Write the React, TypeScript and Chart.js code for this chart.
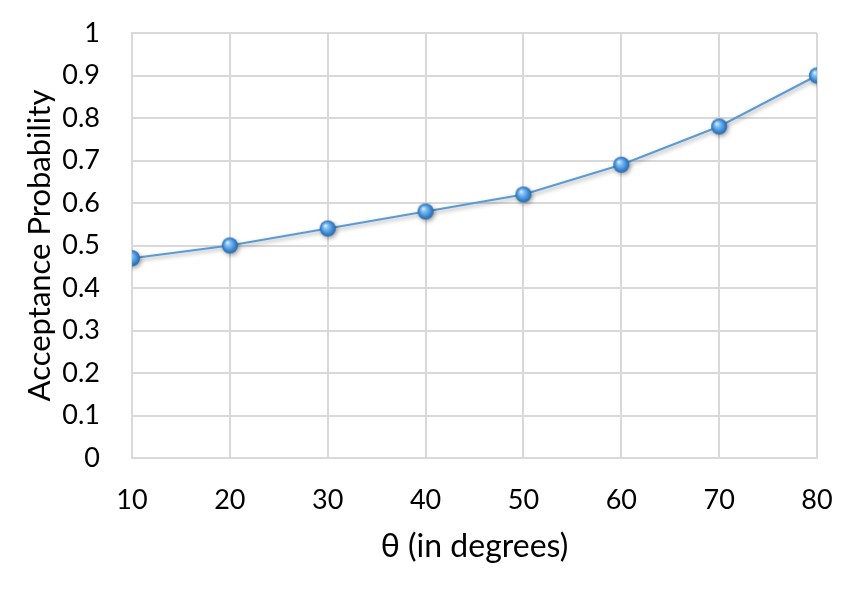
import React, { useEffect, useRef } from "react";
import { Chart, registerables } from "chart.js";

Chart.register(...registerables);

const thetaDegrees = [10, 20, 30, 40, 50, 60, 70, 80];
const acceptanceProbability = [0.47, 0.5, 0.54, 0.58, 0.62, 0.69, 0.78, 0.9];
const xTitle = "θ (in degrees)";
const yTitle = "Acceptance Probability";

const FONT = "Lato, 'Open Sans', 'DejaVu Sans', sans-serif";

function makeSphere(): HTMLCanvasElement {
  const size = 20;
  const c = document.createElement("canvas");
  c.width = size;
  c.height = size;
  const ctx = c.getContext("2d")!;
  const cx = size / 2;
  const cy = size / 2;
  const r = 8;
  const g = ctx.createRadialGradient(cx - 2.5, cy - 3, 0.5, cx, cy, r);
  g.addColorStop(0, "#d6ecfd");
  g.addColorStop(0.25, "#84c3f3");
  g.addColorStop(0.65, "#4592dc");
  g.addColorStop(1, "#2466a8");
  ctx.beginPath();
  ctx.arc(cx, cy, r, 0, Math.PI * 2);
  ctx.fillStyle = g;
  ctx.fill();
  return c;
}

const shadowPlugin = {
  id: "lineShadow",
  beforeDatasetDraw(chart: any) {
    const ctx = chart.ctx;
    ctx.save();
    ctx.shadowColor = "rgba(0,0,0,0.35)";
    ctx.shadowBlur = 4;
    ctx.shadowOffsetX = 1.5;
    ctx.shadowOffsetY = 2;
  },
  afterDatasetDraw(chart: any) {
    chart.ctx.restore();
  },
};

export default function App() {
  const ref = useRef<HTMLCanvasElement>(null);

  useEffect(() => {
    const sphere = makeSphere();
    const chart = new Chart(ref.current!, {
      type: "line",
      data: {
        datasets: [
          {
            data: thetaDegrees.map((x, i) => ({ x, y: acceptanceProbability[i] })),
            borderColor: "#5b9bd5",
            borderWidth: 2,
            pointStyle: sphere as any,
            pointRadius: 8,
            tension: 0,
          },
        ],
      },
      plugins: [shadowPlugin],
      options: {
        responsive: false,
        animation: false,
        layout: { padding: { top: 33, right: 30, left: 0, bottom: 0 } },
        plugins: { legend: { display: false }, tooltip: { enabled: false } },
        scales: {
          x: {
            type: "linear",
            min: 10,
            max: 80,
            afterFit: (s: any) => {
              s.height = 146;
              s.paddingLeft = 0;
              s.paddingRight = 0;
            },
            ticks: {
              stepSize: 10,
              padding: 26,
              color: "#000",
              font: { family: FONT, size: 27 },
            },
            grid: { color: "#d9d9d9", lineWidth: 2, drawTicks: false },
            border: { color: "#d9d9d9", width: 2 },
            title: {
              display: true,
              text: xTitle,
              color: "#000",
              font: { family: FONT, size: 32 },
              padding: { top: 0, bottom: 38 },
            },
          },
          y: {
            min: 0,
            max: 1,
            afterFit: (s: any) => {
              s.width = 132;
              s.paddingTop = 0;
              s.paddingBottom = 0;
            },
            ticks: {
              stepSize: 0.1,
              padding: 32,
              color: "#000",
              font: { family: FONT, size: 27 },
              callback: (v: any) => String(Math.round(Number(v) * 10) / 10),
            },
            grid: { color: "#d9d9d9", lineWidth: 2, drawTicks: false },
            border: { color: "#d9d9d9", width: 2 },
            title: {
              display: true,
              text: yTitle,
              color: "#000",
              font: { family: FONT, size: 31 },
              padding: { top: 21, bottom: 0 },
            },
          },
        },
      },
    });
    return () => chart.destroy();
  }, []);

  return (
    <div style={{ position: "absolute", left: 0, top: 0, width: 847, height: 604, background: "#fff" }}>
      <canvas ref={ref} width={847} height={604} />
    </div>
  );
}
